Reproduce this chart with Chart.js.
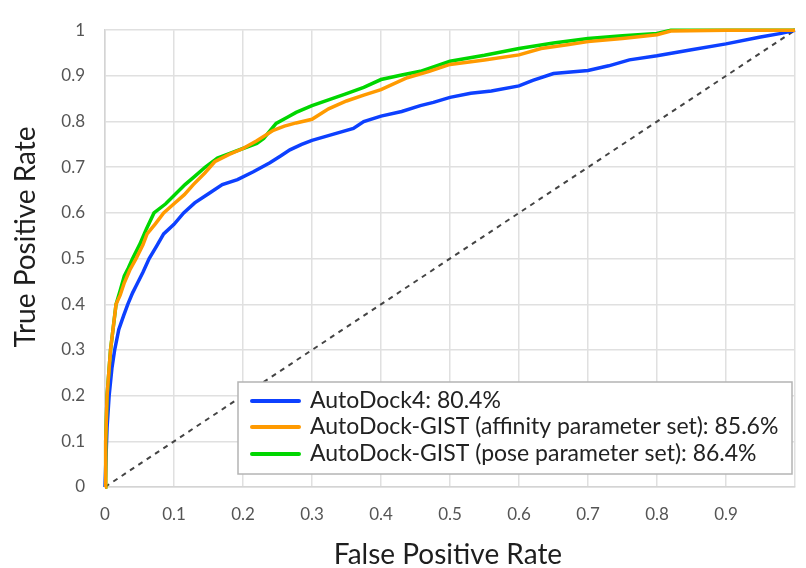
<!DOCTYPE html>
<html>
<head>
<meta charset="utf-8">
<script src="https://cdn.jsdelivr.net/npm/chart.js@4.4.1/dist/chart.umd.min.js"></script>
<style>
  body { margin: 0; overflow: hidden; background: #fff; }
  #wrap { width: 812px; height: 568px; }
</style>
</head>
<body>
<div id="wrap"><canvas id="rocChart" width="812" height="568"></canvas></div>
<script>
'use strict';

// series names as in legend
const seriesNames = [
  'AutoDock4: 80.4%',
  'AutoDock-GIST (affinity parameter set): 85.6%',
  'AutoDock-GIST (pose parameter set): 86.4%'
];

// AutoDock4
const fprAD4 = [0, 0.002, 0.003, 0.006, 0.01, 0.014, 0.02, 0.027, 0.033, 0.04, 0.045, 0.055, 0.064, 0.075, 0.085, 0.1, 0.114, 0.13, 0.15, 0.17, 0.192, 0.215, 0.239, 0.255, 0.268, 0.285, 0.3, 0.33, 0.36, 0.375, 0.4, 0.43, 0.457, 0.476, 0.5, 0.53, 0.56, 0.6, 0.62, 0.65, 0.7, 0.73, 0.76, 0.8, 0.85, 0.9, 0.95, 0.98, 1];
const tprAD4 = [0, 0.09, 0.13, 0.2, 0.26, 0.3, 0.345, 0.375, 0.4, 0.425, 0.44, 0.47, 0.5, 0.528, 0.554, 0.575, 0.6, 0.622, 0.642, 0.662, 0.673, 0.69, 0.71, 0.725, 0.738, 0.75, 0.759, 0.772, 0.785, 0.8, 0.812, 0.822, 0.835, 0.842, 0.853, 0.862, 0.867, 0.878, 0.89, 0.905, 0.912, 0.922, 0.935, 0.944, 0.957, 0.97, 0.985, 0.993, 1];

// AutoDock-GIST affinity
const fprAff = [0, 0.001, 0.003, 0.008, 0.012, 0.016, 0.022, 0.028, 0.036, 0.045, 0.055, 0.061, 0.073, 0.085, 0.1, 0.115, 0.128, 0.145, 0.159, 0.18, 0.2, 0.22, 0.244, 0.26, 0.277, 0.3, 0.324, 0.35, 0.375, 0.4, 0.438, 0.47, 0.5, 0.55, 0.6, 0.632, 0.67, 0.7, 0.75, 0.8, 0.82, 0.9, 1];
const tprAff = [0, 0.1, 0.2, 0.3, 0.35, 0.4, 0.42, 0.447, 0.475, 0.5, 0.53, 0.554, 0.576, 0.6, 0.62, 0.64, 0.662, 0.688, 0.712, 0.728, 0.741, 0.758, 0.781, 0.79, 0.797, 0.805, 0.828, 0.845, 0.858, 0.87, 0.896, 0.91, 0.925, 0.935, 0.946, 0.96, 0.968, 0.975, 0.982, 0.99, 0.998, 1, 1];

// AutoDock-GIST pose
const fprPose = [0, 0.001, 0.003, 0.008, 0.012, 0.016, 0.022, 0.028, 0.034, 0.04, 0.05, 0.06, 0.071, 0.088, 0.1, 0.116, 0.13, 0.145, 0.163, 0.18, 0.2, 0.22, 0.23, 0.248, 0.265, 0.277, 0.3, 0.325, 0.348, 0.375, 0.4, 0.43, 0.457, 0.5, 0.55, 0.6, 0.65, 0.7, 0.75, 0.8, 0.82, 1];
const tprPose = [0, 0.1, 0.2, 0.3, 0.35, 0.4, 0.43, 0.462, 0.48, 0.5, 0.53, 0.565, 0.6, 0.62, 0.638, 0.662, 0.68, 0.7, 0.72, 0.73, 0.741, 0.752, 0.763, 0.796, 0.81, 0.82, 0.835, 0.848, 0.86, 0.875, 0.892, 0.902, 0.91, 0.932, 0.945, 0.96, 0.972, 0.982, 0.988, 0.993, 1, 1];

// random guess line
const fprRandom = [0, 1];
const tprRandom = [0, 1];

const xTickLabels = ['0', '0.1', '0.2', '0.3', '0.4', '0.5', '0.6', '0.7', '0.8', '0.9', ''];
const yTickLabels = ['0', '0.1', '0.2', '0.3', '0.4', '0.5', '0.6', '0.7', '0.8', '0.9', '1'];

const colors = ['#0d40ff', '#ff9a00', '#00d600'];
const FONT = 'Lato, "Noto Sans", sans-serif';

function toPoints(xs, ys) {
  return xs.map((x, i) => ({ x: x, y: ys[i] }));
}

// axis titles + legend box drawn inside the plot
const extras = {
  id: 'extras',
  afterDatasetsDraw(chart) {
    const ctx = chart.ctx;
    ctx.save();

    // legend
    ctx.fillStyle = '#fff';
    ctx.fillRect(238, 382, 554, 92);
    ctx.strokeStyle = '#b4b4b4';
    ctx.lineWidth = 1.5;
    ctx.strokeRect(238, 382, 554, 92);
    ctx.font = '23px ' + FONT;
    ctx.textBaseline = 'alphabetic';
    ctx.textAlign = 'left';
    const rows = [401, 427, 454];
    for (let i = 0; i < seriesNames.length; i++) {
      ctx.strokeStyle = colors[i];
      ctx.lineWidth = 4;
      ctx.lineCap = 'round';
      ctx.beginPath();
      ctx.moveTo(252, rows[i]);
      ctx.lineTo(299, rows[i]);
      ctx.stroke();
      ctx.fillStyle = '#222';
      ctx.fillText(seriesNames[i], 310, rows[i] + 7);
    }

    // axis titles
    ctx.fillStyle = '#1e1e1e';
    ctx.font = '28px ' + FONT;
    ctx.textAlign = 'center';
    ctx.fillText('False Positive Rate', 448, 564);
    ctx.translate(35, 237);
    ctx.rotate(-Math.PI / 2);
    ctx.fillText('True Positive Rate', 0, 0);
    ctx.restore();
  }
};

const ctx = document.getElementById('rocChart').getContext('2d');

new Chart(ctx, {
  type: 'scatter',
  data: {
    datasets: [
      { label: seriesNames[0], data: toPoints(fprAD4, tprAD4), borderColor: colors[0], order: 2 },
      { label: seriesNames[1], data: toPoints(fprAff, tprAff), borderColor: colors[1], order: 0 },
      { label: seriesNames[2], data: toPoints(fprPose, tprPose), borderColor: colors[2], order: 1 },
      { label: 'random', data: toPoints(fprRandom, tprRandom), borderColor: '#444', borderWidth: 2, borderDash: [5, 5], order: 3 }
    ]
  },
  options: {
    responsive: false,
    animation: false,
    events: [],
    datasets: {
      scatter: { showLine: true, pointRadius: 0, borderWidth: 3.5, tension: 0, clip: 5 }
    },
    layout: { padding: { top: 23, right: 2, bottom: 0, left: 0 } },
    plugins: {
      legend: { display: false },
      tooltip: { enabled: false }
    },
    scales: {
      x: {
        type: 'linear',
        min: 0,
        max: 1,
        afterFit: (scale) => { scale.height = 81; },
        grid: { color: '#e0e0e0', lineWidth: 1.5, drawTicks: false },
        border: { color: '#d4d4d4', width: 1.5 },
        ticks: {
          stepSize: 0.1,
          padding: 17,
          color: '#555',
          font: { family: FONT, size: 17 },
          maxRotation: 0,
          autoSkip: false,
          callback: (v, i) => xTickLabels[i]
        }
      },
      y: {
        type: 'linear',
        min: 0,
        max: 1,
        afterFit: (scale) => { scale.width = 105; },
        grid: { color: '#e0e0e0', lineWidth: 1.5, drawTicks: false },
        border: { color: '#d4d4d4', width: 1.5 },
        ticks: {
          stepSize: 0.1,
          padding: 20,
          color: '#555',
          font: { family: FONT, size: 17 },
          autoSkip: false,
          callback: (v, i) => yTickLabels[i]
        }
      }
    }
  },
  plugins: [extras]
});
</script>
</body>
</html>
